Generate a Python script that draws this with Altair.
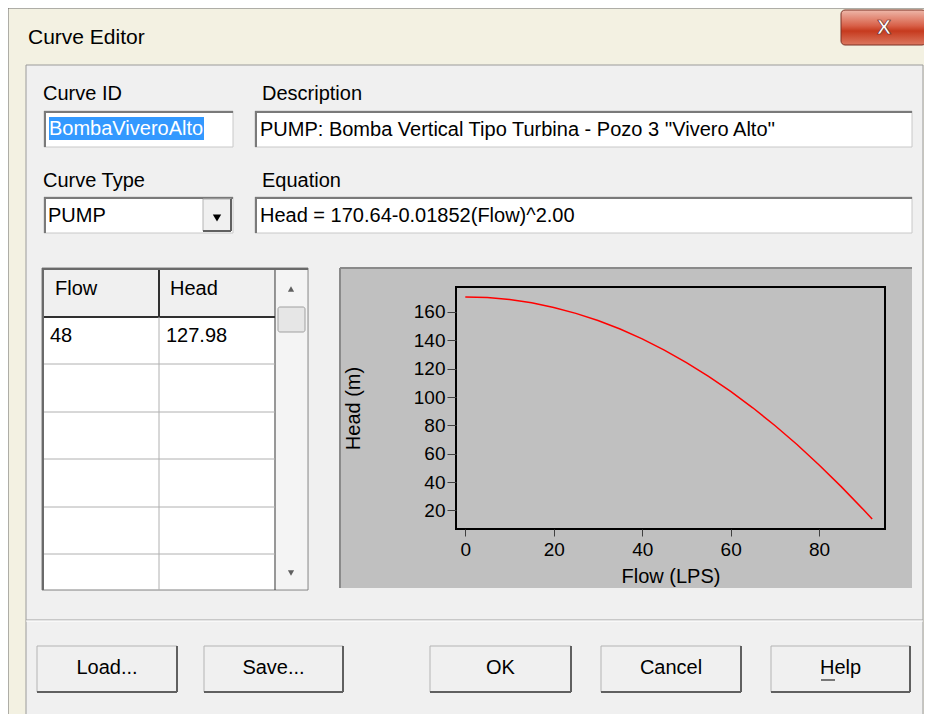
import altair as alt
import pandas as pd

# ---- chart data ----
flow = [0, 5, 10, 15, 20, 25, 30, 35, 40, 45, 50, 55, 60, 65, 70, 75, 80, 85, 90, 92]
head = [170.6, 170.2, 168.8, 166.5, 163.2, 159.0, 154.0, 148.0, 141.0, 133.1,
        124.3, 114.6, 104.0, 92.4, 79.9, 66.5, 52.1, 36.8, 20.6, 13.9]
x_ticks = [0, 20, 40, 60, 80]
y_ticks = [20, 40, 60, 80, 100, 120, 140, 160]

# ---- dialog texts ----
window_title = "Curve Editor"
field_labels = ["Curve ID", "Description", "Curve Type", "Equation"]
field_values = ["BombaViveroAlto",
                "PUMP: Bomba Vertical Tipo Turbina - Pozo 3 ''Vivero Alto''",
                "PUMP",
                "Head = 170.64-0.01852(Flow)^2.00"]
table_header = ["Flow", "Head"]
table_row = ["48", "127.98"]
buttons = ["Load...", "Save...", "OK", "Cancel", "Help"]

FONT = "Liberation Sans, Arial, sans-serif"
OX, OY = 456, 287          # page position of the plot frame
PW, PH = 429, 242          # plot frame size
one = alt.Data(values=[{"k": 0}])


def R(x1, y1, x2, y2, **kw):
    return alt.Chart(one).mark_rect(**kw).encode(
        x=alt.value(x1 - OX), x2=alt.value(x2 - OX),
        y=alt.value(y1 - OY), y2=alt.value(y2 - OY))


def L(x1, y1, x2, y2, color, w=1):
    return alt.Chart(one).mark_rule(color=color, strokeWidth=w).encode(
        x=alt.value(x1 - OX), x2=alt.value(x2 - OX),
        y=alt.value(y1 - OY), y2=alt.value(y2 - OY))


def T(s, x, y, size=20, align="left", color="#000000", weight="normal", **kw):
    return alt.Chart(one).mark_text(
        text=s, align=align, baseline="middle", fontSize=size, font=FONT,
        color=color, fontWeight=weight, **kw).encode(
        x=alt.value(x - OX), y=alt.value(y - OY))


def TRI(x, y, shape, size=40, color="#000000"):
    return alt.Chart(one).mark_point(shape=shape, filled=True, size=size,
                                     color=color, opacity=1).encode(
        x=alt.value(x - OX), y=alt.value(y - OY))


def inset_box(x1, y1, x2, y2):
    return [R(x1, y1, x2, y2, fill="#ffffff", stroke="#c8c8c8", strokeWidth=1),
            L(x1, y1 + 1, x2, y1 + 1, "#7a7a7a", 2),
            L(x1 + 1, y1, x1 + 1, y2, "#7a7a7a", 2)]


def button(x1, y1, x2, y2):
    return [R(x1, y1, x2, y2, fill="#f0f0f0", stroke="#b4b4b4", strokeWidth=1),
            L(x1, y2, x2, y2, "#606060", 2),
            L(x2, y1, x2, y2, "#606060", 2)]


chrome = []
# window frame and client area
chrome.append(R(8, 8, 930, 727, fill="#f3f1e2", stroke="#6b6b6b", strokeWidth=1))
chrome.append(R(841, 10, 926, 45, cornerRadius=4, stroke="#7a3024", strokeWidth=1,
                fill=alt.Gradient(gradient="linear", x1=0, y1=0, x2=0, y2=1,
                                  stops=[alt.GradientStop(offset=0, color="#eeb8aa"),
                                         alt.GradientStop(offset=0.45, color="#d86048"),
                                         alt.GradientStop(offset=0.6, color="#c63a1e"),
                                         alt.GradientStop(offset=1, color="#dc7860")])))
chrome.append(R(26, 65, 923, 715, fill="#f0f0f0", stroke="#9a9a9a", strokeWidth=1))

# text boxes
chrome += inset_box(44, 111, 233, 147)
chrome.append(R(49, 117, 204, 140, fill="#3399ff"))
chrome += inset_box(255, 111, 912, 147)
chrome += inset_box(44, 197, 233, 233)
chrome += button(203, 199, 231, 231)
chrome += inset_box(255, 197, 912, 233)

# table
chrome.append(R(42, 268, 308, 590, fill="#ffffff", stroke="#808080", strokeWidth=1))
chrome.append(L(43, 268, 43, 590, "#6a6a6a", 2))
chrome.append(L(42, 269, 308, 269, "#6a6a6a", 2))
chrome.append(R(44, 270, 275, 317, fill="#f0f0f0"))
chrome.append(L(44, 317, 275, 317, "#303030", 2))
chrome.append(L(159, 270, 159, 317, "#303030", 2))
chrome.append(L(275, 270, 275, 590, "#303030", 1))
chrome.append(L(159, 317, 159, 590, "#b0b0b0", 1))
for ry in [364, 412, 459, 507, 554]:
    chrome.append(L(44, ry, 275, ry, "#b0b0b0", 1))
chrome.append(R(276, 270, 307, 589, fill="#f4f4f4"))
chrome.append(R(278, 307, 305, 332, fill="#e6e6e6", stroke="#a0a0a0",
                strokeWidth=1, cornerRadius=2))
chrome.append(TRI(291, 289, "triangle-up", 38, "#606060"))
chrome.append(TRI(291, 573, "triangle-down", 38, "#606060"))

# chart panel
chrome.append(R(340, 268, 912, 588, fill="#c0c0c0"))
chrome.append(L(340, 268, 912, 268, "#8a8a8a", 2))
chrome.append(L(340, 268, 340, 588, "#8a8a8a", 2))

# separator and buttons
chrome.append(L(26, 620, 923, 620, "#a0a0a0", 1))
chrome.append(L(26, 621, 923, 621, "#ffffff", 1))
btn_boxes = [(37, 177), (204, 343), (430, 571), (601, 741), (771, 910)]
for bx1, bx2 in btn_boxes:
    chrome += button(bx1, 646, bx2, 692)

# ---- the pump curve ----
df = pd.DataFrame({"Flow": flow, "Head": head})
curve = alt.Chart(df).mark_line(color="#ff0000", strokeWidth=1.5).encode(
    x=alt.X("Flow:Q",
            scale=alt.Scale(domain=[-2.1, 94.9], nice=False, zero=False),
            axis=alt.Axis(values=x_ticks, format="d", title="Flow (LPS)",
                          domain=False, grid=False, tickSize=7, tickColor="#404040",
                          labelFontSize=19, labelFont=FONT, labelColor="#000000",
                          labelPadding=4, titleFontSize=20, titleFont=FONT,
                          titleFontWeight="normal", titleColor="#000000",
                          titlePadding=7, zindex=1)),
    y=alt.Y("Head:Q",
            scale=alt.Scale(domain=[6.9, 177.6], nice=False, zero=False),
            axis=alt.Axis(values=y_ticks, format="d", title="Head (m)",
                          domain=False, grid=False, tickSize=9, tickColor="#404040",
                          labelFontSize=19, labelFont=FONT, labelColor="#000000",
                          labelPadding=2, titleFontSize=20, titleFont=FONT,
                          titleFontWeight="normal", titleColor="#000000",
                          titlePadding=50, zindex=1)),
)
frame = R(OX, OY, OX + PW, OY + PH, fillOpacity=0, stroke="#000000", strokeWidth=2)

texts = []
texts.append(T(window_title, 28, 38, 21))
texts.append(T("X", 884, 28, 21, "center", "#ffffff", "bold",
               stroke="#6a2418", strokeWidth=0.7))
texts.append(T(field_labels[0], 43, 94))
texts.append(T(field_labels[1], 262, 94))
texts.append(T(field_labels[2], 43, 181))
texts.append(T(field_labels[3], 262, 181))
texts.append(T(field_values[0], 49, 129, color="#ffffff"))
texts.append(T(field_values[1], 260, 130))
texts.append(T(field_values[2], 48, 216))
texts.append(TRI(217, 218, "triangle-down", 70, "#000000"))
texts.append(T(field_values[3], 260, 216))
texts.append(T(table_header[0], 55, 289))
texts.append(T(table_header[1], 170, 289))
texts.append(T(table_row[0], 50, 336))
texts.append(T(table_row[1], 166, 336))
for (bx1, bx2), lab in zip(btn_boxes, buttons):
    texts.append(T(lab, (bx1 + bx2) / 2, 668, 20, "center"))
texts.append(L(821, 680, 835, 680, "#000000", 1))

chart = alt.layer(*chrome, curve, frame, *texts).properties(
    width=PW, height=PH,
    padding={"left": OX - 8, "top": OY - 8, "right": 916 - (OX - 8) - PW,
             "bottom": 706 - (OY - 8) - PH},
    autosize=alt.AutoSizeParams(type="none"),
    background="#ffffff",
).configure_view(stroke="transparent")

chart.save("out.html", embed_options={"renderer": "svg", "actions": False})
